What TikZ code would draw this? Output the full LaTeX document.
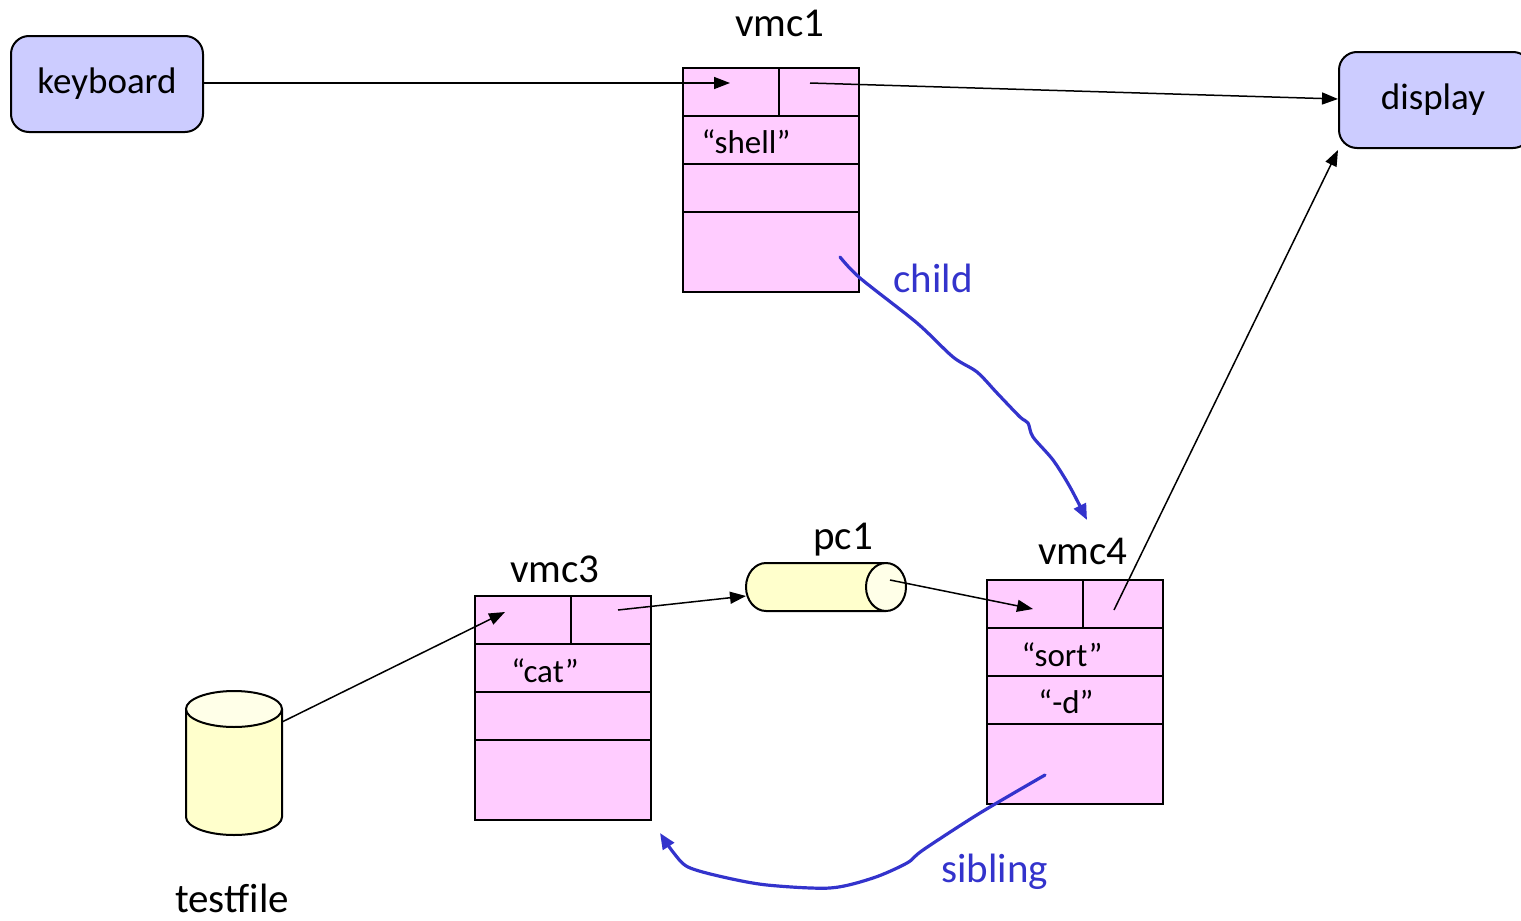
\documentclass[tikz,border=0pt]{standalone}
\usepackage{fontspec}
\setmainfont{Carlito}
\usetikzlibrary{arrows.meta}
\definecolor{vpink}{HTML}{FFCCFF}
\definecolor{devblue}{HTML}{CCCCFF}
\definecolor{pipeyel}{HTML}{FFFFCC}
\definecolor{pipecap}{HTML}{FFFFE8}
\definecolor{linkblue}{HTML}{3333CC}
\tikzset{
  cell/.style={draw, fill=vpink, line width=1pt, inner sep=0pt, anchor=north west, minimum height=24pt},
  device/.style={draw, fill=devblue, line width=1pt, rounded corners=9pt, inner sep=0pt, anchor=north west, font=\fontsize{18.5}{20}\selectfont},
  title/.style={anchor=base, inner sep=0pt, font=\fontsize{20.5}{22}\selectfont},
  celltext/.style={anchor=base, inner sep=0pt, font=\fontsize{16.5}{18}\selectfont},
  ptr/.style={line width=0.75pt, -{Triangle[length=8pt,width=6pt]}},
  rel/.style={linkblue, line width=1.6pt, line cap=round, line join=round, -{Triangle[length=8pt,width=6.5pt]}},
  reltext/.style={anchor=base west, inner sep=0pt, text=linkblue, font=\fontsize{20.5}{22}\selectfont},
}
\begin{document}
\begin{tikzpicture}[x=0.5pt, y=-0.5pt]
\useasboundingbox (0,0) rectangle (1521,921);

% devices
\node[device, minimum width=96pt, minimum height=48pt] (keyboard) at (10,35) {keyboard};
\begin{scope}
\clip (0,0) rectangle (1521,921);
\node[device, minimum width=96pt, minimum height=48pt] (display) at (1338,51) {\hspace*{-2pt}display};
\end{scope}

% vmc1
\node[title] (t1) at (780,36) {vmc1};
\node[cell, minimum width=48pt] (v1a) at (682,67) {};
\node[cell, minimum width=40pt] (v1b) at (778,67) {};
\node[cell, minimum width=88pt] (v1c) at (682,115) {};
\node[cell, minimum width=88pt] (v1d) at (682,163) {};
\node[cell, minimum width=88pt, minimum height=40pt] (v1e) at (682,211) {};
\node[celltext] (s1) at (746,153) {“shell”};

% vmc3
\node[title] (t3) at (555,582) {vmc3};
\node[cell, minimum width=48pt] (v3a) at (474,595) {};
\node[cell, minimum width=40pt] (v3b) at (570,595) {};
\node[cell, minimum width=88pt] (v3c) at (474,643) {};
\node[cell, minimum width=88pt] (v3d) at (474,691) {};
\node[cell, minimum width=88pt, minimum height=40pt] (v3e) at (474,739) {};
\node[celltext] (s3) at (545,682) {“cat”};

% vmc4
\node[title] (t4) at (1083,564) {vmc4};
\node[cell, minimum width=48pt] (v4a) at (986,579) {};
\node[cell, minimum width=40pt] (v4b) at (1082,579) {};
\node[cell, minimum width=88pt] (v4c) at (986,627) {};
\node[cell, minimum width=88pt] (v4d) at (986,675) {};
\node[cell, minimum width=88pt, minimum height=40pt] (v4e) at (986,723) {};
\node[celltext] (s4a) at (1062,666) {“sort”};
\node[celltext] (s4b) at (1066,713) {“-d”};

% pipe pc1 (horizontal cylinder)
\node[title] (tp) at (843,549) {pc1};
\node[inner sep=0pt, minimum width=80pt, minimum height=24pt] (pc1) at (826,587) {};
\draw[fill=pipeyel, line width=1pt] (886,563) -- (766,563) arc[start angle=90, end angle=270, x radius=10pt, y radius=12pt] -- (886,611);
\draw[fill=pipecap, line width=1pt] (886,587) ellipse[x radius=10pt, y radius=12pt];

% file testfile (vertical cylinder)
\node[title] (tf) at (232,912) {testfile};
\node[inner sep=0pt, minimum width=48pt, minimum height=72pt] (testfile) at (234,763) {};
\draw[fill=pipeyel, line width=1pt] (186,709) -- (186,817) arc[start angle=180, end angle=360, x radius=24pt, y radius=9pt] -- (282,709);
\draw[fill=pipecap, line width=1pt] (234,709) ellipse[x radius=24pt, y radius=9pt];

% pointer end points inside the cells
\coordinate (k1) at (202,83);
\coordinate (v1in) at (730,83);
\coordinate (v1out) at (810,83);
\coordinate (dspin) at (1338,99);
\coordinate (dspin2) at (1338,150);
\coordinate (tfout) at (282,722);
\coordinate (v3in) at (505,612);
\coordinate (v3out) at (618,610);
\coordinate (pcin) at (746,596);
\coordinate (pcout) at (890,580);
\coordinate (v4in) at (1033,609);
\coordinate (v4out) at (1114,610);

\draw[ptr] (k1) -- (v1in);
\draw[ptr] (v1out) -- (dspin);
\draw[ptr] (tfout) -- (v3in);
\draw[ptr] (v3out) -- (pcin);
\draw[ptr] (pcout) -- (v4in);
\draw[ptr] (v4out) -- (dspin2);

% process relations
\draw[rel] plot[smooth, tension=0.5] coordinates {(840,257) (860,278) (917,323) (953,357) (977,372) (997,393) (1020,417) (1028,423) (1033,437) (1053,460) (1070,487) (1087,520)};
\node[reltext] (child) at (893,292) {child};

\draw[rel] plot[smooth, tension=0.5] coordinates {(1045,775) (980,813) (923,850) (907,863) (873,878) (830,888) (767,885) (723,877) (688,867) (673,852) (660,833)};
\node[reltext] (sibling) at (941,882) {sibling};
\end{tikzpicture}
\end{document}
